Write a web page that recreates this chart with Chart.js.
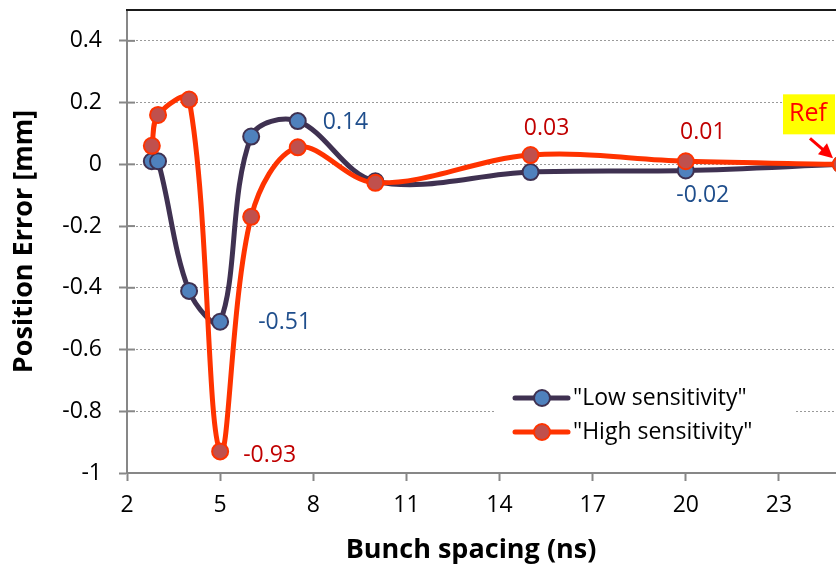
<!DOCTYPE html>
<html>
<head>
<meta charset="utf-8">
<script src="https://cdn.jsdelivr.net/npm/chart.js@4.4.1/dist/chart.umd.min.js"></script>
<style>
  html, body { margin: 0; padding: 0; background: #fff; overflow: hidden; }
</style>
</head>
<body>
<canvas id="graficoErro" width="860" height="570"></canvas>
<script>
// espacamento entre bunches (ns) e erro de posicao (mm)
const espacamento = [2.8, 3, 4, 5, 6, 7.5, 10, 15, 20, 25]
const baixaSens = [0.01, 0.01, -0.41, -0.51, 0.09, 0.14, -0.055, -0.025, -0.02, 0]
const altaSens = [0.06, 0.16, 0.21, -0.93, -0.17, 0.055, -0.06, 0.03, 0.01, 0]
const ticksX = [2, 5, 8, 11, 14, 17, 20, 23]
const ticksY = [-1, -0.8, -0.6, -0.4, -0.2, 0, 0.2, 0.4]
const nomes = ['"Low sensitivity"', '"High sensitivity"']
const indiceRef = 9

const fonte = '"Open Sans", Lato, sans-serif'

function pontos(valores) {
  return espacamento.map((x, i) => ({ x: x, y: valores[i] }))
}

// rotulos de valor: qual serie, qual ponto e onde escrever
const rotulos = [
  { serie: 0, indice: 3, dx: 38, dy: 1, alinha: 'left' },
  { serie: 0, indice: 5, dx: 25, dy: 1, alinha: 'left' },
  { serie: 0, indice: 8, dx: 17, dy: 25, alinha: 'center' },
  { serie: 1, indice: 3, dx: 23, dy: 4, alinha: 'left' },
  { serie: 1, indice: 7, dx: 16, dy: -27, alinha: 'center' },
  { serie: 1, indice: 8, dx: 17, dy: -29, alinha: 'center' },
]
const corRotulo = ['#1F4E8C', '#C00000']

const moldura = {
  id: 'moldura',
  beforeDatasetsDraw(chart) {
    const { ctx, chartArea, scales } = chart
    ctx.save()
    ctx.strokeStyle = '#1a1a1a'
    ctx.lineWidth = 2
    ctx.beginPath()
    ctx.moveTo(chartArea.left - 1, chartArea.top)
    ctx.lineTo(chartArea.right, chartArea.top)
    ctx.stroke()
    // tracinhos do eixo Y cruzando para dentro
    ctx.strokeStyle = '#878787'
    ticksY.forEach(v => {
      const y = scales.y.getPixelForValue(v)
      ctx.beginPath()
      ctx.moveTo(chartArea.left, y)
      ctx.lineTo(chartArea.left + 8, y)
      ctx.stroke()
    })
    ctx.restore()
  }
}

const valores = {
  id: 'valores',
  afterDatasetsDraw(chart) {
    const ctx = chart.ctx
    ctx.save()
    ctx.font = '23px ' + fonte
    ctx.textBaseline = 'middle'
    rotulos.forEach(r => {
      const ponto = chart.getDatasetMeta(r.serie).data[r.indice]
      const valor = chart.data.datasets[r.serie].data[r.indice].y
      ctx.fillStyle = corRotulo[r.serie]
      ctx.textAlign = r.alinha
      ctx.fillText(valor.toFixed(2), ponto.x + r.dx, ponto.y + r.dy)
    })

    // marcacao do ponto de referencia
    const ref = chart.getDatasetMeta(1).data[indiceRef]
    ctx.fillStyle = '#FFFF00'
    ctx.fillRect(ref.x - 58, ref.y - 70, 52, 40)
    ctx.fillStyle = '#FF0000'
    ctx.textAlign = 'center'
    ctx.font = '25px ' + fonte
    ctx.fillText('Ref', ref.x - 33, ref.y - 50)
    ctx.strokeStyle = '#FF0000'
    ctx.lineWidth = 3
    ctx.beginPath()
    ctx.moveTo(ref.x - 31, ref.y - 26)
    ctx.lineTo(ref.x - 16, ref.y - 13)
    ctx.stroke()
    ctx.beginPath()
    ctx.moveTo(ref.x - 8, ref.y - 6)
    ctx.lineTo(ref.x - 23, ref.y - 10)
    ctx.lineTo(ref.x - 14, ref.y - 21)
    ctx.closePath()
    ctx.fill()
    ctx.restore()
  }
}

const legenda = {
  id: 'legenda',
  afterDraw(chart) {
    const ctx = chart.ctx
    ctx.save()
    ctx.fillStyle = '#ffffff'
    ctx.fillRect(495, 382, 300, 66)
    chart.data.datasets.forEach((ds, i) => {
      const y = 398 + i * 34
      ctx.strokeStyle = ds.borderColor
      ctx.lineWidth = 5
      ctx.lineCap = 'round'
      ctx.beginPath()
      ctx.moveTo(515, y)
      ctx.lineTo(568, y)
      ctx.stroke()
      ctx.fillStyle = ds.pointBackgroundColor
      ctx.lineWidth = 2
      ctx.strokeStyle = ds.pointBorderColor
      ctx.beginPath()
      ctx.arc(542, y, 8, 0, Math.PI * 2)
      ctx.fill()
      ctx.stroke()
      ctx.fillStyle = '#000'
      ctx.font = '23px ' + fonte
      ctx.textAlign = 'left'
      ctx.textBaseline = 'middle'
      ctx.fillText(ds.label, 573, y)
    })
    ctx.restore()
  }
}

const tituloX = {
  id: 'tituloX',
  afterDraw(chart) {
    const { ctx, chartArea } = chart
    ctx.save()
    ctx.font = 'bold 27px ' + fonte
    ctx.fillStyle = '#000'
    ctx.textAlign = 'center'
    ctx.textBaseline = 'middle'
    ctx.fillText('Bunch spacing (ns)', (chartArea.left + chartArea.right) / 2 - 13, 550)
    ctx.restore()
  }
}

const grafico = document.getElementById('graficoErro')
const graficoErro = new Chart(grafico, {
  type: 'line',
  data: {
    datasets: [
      {
        label: nomes[0],
        data: pontos(baixaSens),
        borderColor: '#3F3151',
        borderWidth: 5,
        pointBackgroundColor: '#4F81BD',
        pointBorderColor: '#3F3151',
        pointBorderWidth: 2,
        pointRadius: 8,
        tension: 0.35,
        order: 1,
      },
      {
        label: nomes[1],
        data: pontos(altaSens),
        borderColor: '#FF3300',
        borderWidth: 5,
        pointBackgroundColor: '#C0504D',
        pointBorderColor: '#FF3300',
        pointBorderWidth: 2,
        pointRadius: 8,
        tension: 0.35,
        order: 0,
      },
    ],
  },
  options: {
    responsive: false,
    animation: false,
    layout: { padding: { top: 8, right: 19, left: 0, bottom: 0 } },
    plugins: {
      legend: { display: false },
      tooltip: { enabled: false },
    },
    scales: {
      x: {
        type: 'linear',
        min: 2,
        max: 25,
        afterBuildTicks: escala => { escala.ticks = ticksX.map(v => ({ value: v })) },
        afterFit: escala => {
          escala.height = 97
          escala.paddingLeft = 0
          escala.paddingRight = 0
        },
        border: { color: '#878787', width: 2 },
        grid: { drawOnChartArea: false, tickLength: 8, tickColor: '#878787', tickWidth: 2 },
        ticks: {
          padding: 11,
          color: '#000',
          font: { family: fonte, size: 23 },
          callback: v => String(v),
        },
      },
      y: {
        min: -1,
        max: 0.5,
        afterBuildTicks: escala => { escala.ticks = ticksY.map(v => ({ value: v })) },
        afterFit: escala => {
          escala.width = 127
          escala.paddingTop = 0
          escala.paddingBottom = 0
        },
        border: { color: '#878787', width: 2, dash: [2, 2] },
        grid: { color: '#9a9a9a', lineWidth: 1, tickLength: 8, tickColor: '#878787', tickWidth: 2 },
        ticks: {
          padding: 17,
          color: '#000',
          font: { family: fonte, size: 23 },
          callback: v => String(v),
        },
        title: {
          display: true,
          text: 'Position Error [mm]',
          color: '#000',
          font: { family: fonte, size: 27, weight: 'bold' },
          padding: { top: 8, bottom: 0 },
        },
      },
    },
  },
  plugins: [moldura, valores, legenda, tituloX],
})
</script>
</body>
</html>
